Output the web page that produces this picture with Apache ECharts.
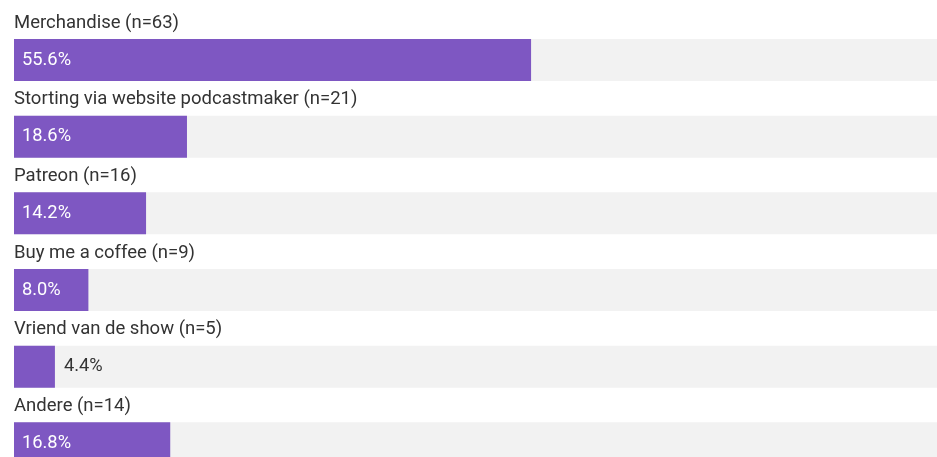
<!DOCTYPE html>
<html><head><meta charset="utf-8">
<script src="https://cdn.jsdelivr.net/npm/echarts@6/dist/echarts.min.js"></script>
<style>html,body{margin:0;padding:0;background:#fff}#c{width:937px;height:457px}</style>
</head><body><div id="c"></div>
<script>
const categories = ['Merchandise (n=63)', 'Storting via website podcastmaker (n=21)', 'Patreon (n=16)', 'Buy me a coffee (n=9)', 'Vriend van de show (n=5)', 'Andere (n=14)'];
const values = [55.6, 18.6, 14.2, 8.0, 4.4, 16.8];
const trackMax = 100;

const chart = echarts.init(document.getElementById('c'), null, {renderer: 'canvas'});
const font = 'Roboto, "Noto Sans", sans-serif';
chart.setOption({
  animation: false,
  grid: {left: 14, top: 21.7, width: 930, height: 460, containLabel: false, outerBoundsMode: 'none'},
  xAxis: {type: 'value', min: 0, max: trackMax, show: false},
  yAxis: {type: 'category', data: categories, inverse: true, show: false},
  series: [
    {
      type: 'bar', barWidth: 42, silent: true, z: 1,
      itemStyle: {color: '#f2f2f2'},
      data: categories.map(() => trackMax),
      label: {
        show: true, position: [0, -16], align: 'left', verticalAlign: 'middle',
        fontFamily: font, fontSize: 18.5, color: '#333333',
        formatter: p => p.name
      }
    },
    {
      type: 'bar', barWidth: 42, barGap: '-100%', z: 2,
      itemStyle: {color: '#7e57c2'},
      data: values.map(v => ({
        value: v,
        label: v < 6 ? {position: 'right', distance: 9, color: '#333333'} : {position: 'insideLeft', distance: 8, color: '#ffffff'}
      })),
      label: {
        show: true, fontFamily: font, fontSize: 18.3,
        formatter: p => p.value.toFixed(1) + '%'
      }
    }
  ]
});
</script></body></html>
